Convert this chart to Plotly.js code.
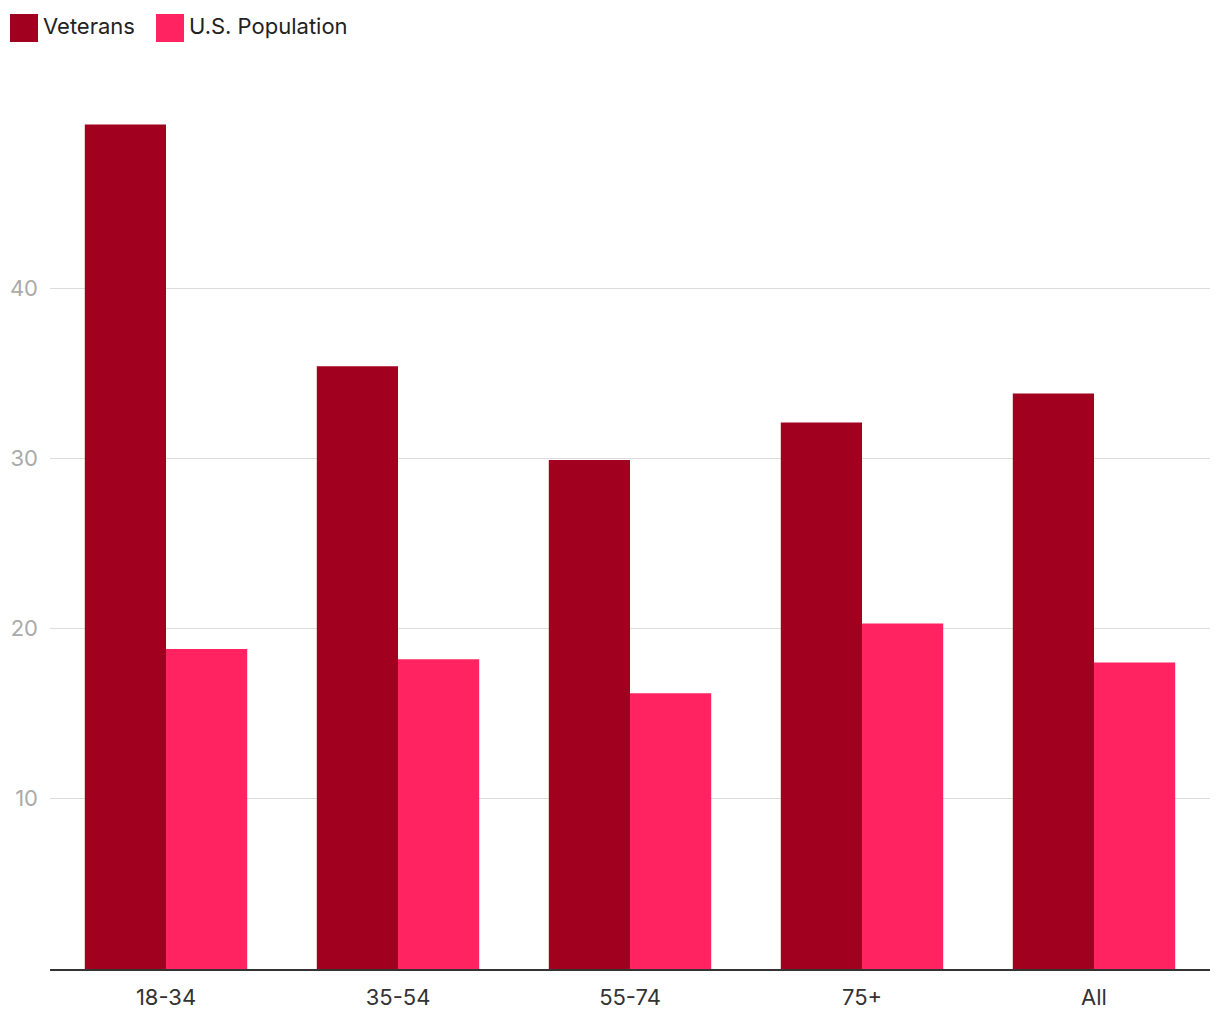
<!DOCTYPE html>
<html>
<head>
<meta charset="utf-8">
<script src="https://cdn.plot.ly/plotly-3.0.1.min.js"></script>
<style>html,body{margin:0;padding:0;background:#fff;}#chart{width:1220px;height:1020px;}</style>
</head>
<body>
<div id="chart"></div>
<script>
const categories = ["18-34", "35-54", "55-74", "75+", "All"];
const veterans = [49.6, 35.4, 29.9, 32.1, 33.8];
const usPopulation = [18.8, 18.2, 16.2, 20.3, 18.0];
const seriesNames = ["Veterans", "U.S. Population"];
const seriesColors = ["#a1001f", "#ff2461"];
const yTicks = [10, 20, 30, 40];

const font = "Inter, 'Noto Sans', sans-serif";

const traces = [
  {type: "bar", name: seriesNames[0], x: categories, y: veterans, marker: {color: seriesColors[0]}, hoverinfo: "x+y"},
  {type: "bar", name: seriesNames[1], x: categories, y: usPopulation, marker: {color: seriesColors[1]}, hoverinfo: "x+y"}
];

const legendX = [10, 156];
const shapes = [];
const annotations = [];
seriesNames.forEach((n, i) => {
  shapes.push({type: "rect", xref: "paper", yref: "paper", layer: "above",
    x0: (legendX[i] - 50) / 1160, x1: (legendX[i] + 28 - 50) / 1160,
    y0: (969 - 42) / 849, y1: (969 - 14) / 849,
    fillcolor: seriesColors[i], line: {width: 0}});
  annotations.push({xref: "paper", yref: "paper", x: (legendX[i] + 31 - 50) / 1160, y: (969 - 26) / 849,
    xanchor: "left", yanchor: "middle", showarrow: false, text: n,
    font: {family: font, size: 22, color: "#222"}});
});

const layout = {
  width: 1220, height: 1020,
  margin: {l: 50, r: 10, t: 120, b: 51, pad: 0},
  paper_bgcolor: "#fff", plot_bgcolor: "#fff",
  showlegend: false,
  barmode: "group", bargap: 0.3, bargroupgap: 0,
  font: {family: font},
  xaxis: {
    type: "category", showgrid: false, zeroline: false,
    showline: true, linecolor: "#333", linewidth: 2,
    ticks: "", ticklabelstandoff: 8,
    tickfont: {family: font, size: 22, color: "#333"}
  },
  yaxis: {
    range: [0, 49.87], tickvals: yTicks, ticktext: yTicks.map(String),
    showgrid: true, gridcolor: "#dddddd", gridwidth: 1,
    zeroline: false, showline: false, ticks: "", ticklabelstandoff: 11,
    tickfont: {family: font, size: 22, color: "#aaaaaa"}
  },
  shapes: shapes,
  annotations: annotations
};

Plotly.newPlot("chart", traces, layout, {displayModeBar: false, staticPlot: true});
</script>
</body>
</html>
